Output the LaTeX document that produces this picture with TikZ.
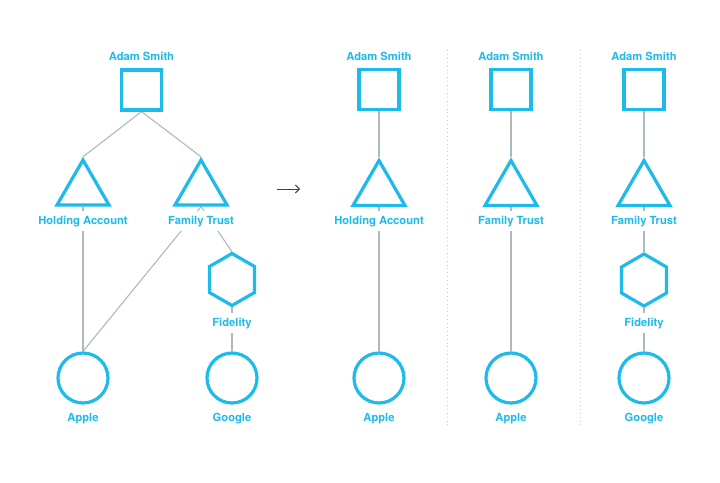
\documentclass[tikz,border=0pt]{standalone}
\usepackage{fontspec}
\setmainfont{TeX Gyre Heros}
\usetikzlibrary{shapes.geometric,backgrounds,arrows.meta}
\definecolor{cy}{RGB}{29,186,234}
\definecolor{edgegray}{RGB}{172,185,189}
\definecolor{arrowgray}{RGB}{55,70,72}
\definecolor{sepgray}{RGB}{200,205,208}
\tikzset{
  shp/.style={draw=cy, line width=3.2pt, fill=white, inner sep=0pt},
  sqbox/.style={shp, rectangle, minimum size=40pt},
  tri/.style={shp, regular polygon, regular polygon sides=3, minimum size=60pt},
  hexa/.style={shp, regular polygon, regular polygon sides=6, shape border rotate=30, minimum size=52pt},
  circ/.style={shp, circle, minimum size=50pt},
  lbl/.style={anchor=base, text=cy, font=\bfseries\fontsize{11.2}{13}\selectfont, fill=white, inner xsep=2pt, inner ysep=4pt, text height=9pt, text depth=3pt},
  edge/.style={draw=edgegray, line width=1.1pt},
  sep/.style={draw=sepgray, line width=0.9pt, dash pattern=on 0.9pt off 3pt}
}
\begin{document}
\begin{tikzpicture}[x=1pt,y=-1pt]
\useasboundingbox (0,0) rectangle (720,482);
% ---------- left tree ----------
\node[sqbox] (s0) at (141.5,90) {};
\node[lbl] (ls0) at (141.5,60.5) {Adam Smith};
\node[tri] (t1) at (83,190) {};
\node[tri] (t2) at (201,190) {};
\node[lbl] (lt1) at (83,224) {Holding Account};
\node[lbl] (lt2) at (201,224) {Family Trust};
\node[hexa] (h0) at (232,279.5) {};
\node[lbl] (lh0) at (232,326) {Fidelity};
\node[circ] (c1) at (83,378) {};
\node[circ] (c2) at (232,378) {};
\node[lbl] (lc1) at (83,421) {Apple};
\node[lbl] (lc2) at (232,421) {Google};
\begin{scope}[on background layer]
  \draw[edge] (s0.south) -- (t1.corner 1);
  \draw[edge] (s0.south) -- (t2.corner 1);
  \draw[edge] (t1.south) -- (c1.north);
  \draw[edge] (t2.south) -- (c1.north);
  \draw[edge] (t2.south) -- (h0.north);
  \draw[edge] (h0.south) -- (c2.north);
\end{scope}
% ---------- arrow ----------
\coordinate (a0) at (277,189);
\coordinate (a1) at (300,189);
\draw[draw=arrowgray, line width=1pt, -{Straight Barb[length=4pt,width=8pt]}] (a0) -- (a1);
% ---------- separators ----------
\coordinate (sp1a) at (447.5,50);
\coordinate (sp1b) at (447.5,425);
\coordinate (sp2a) at (580,50);
\coordinate (sp2b) at (580,425);
\draw[sep] (sp1a) -- (sp1b);
\draw[sep] (sp2a) -- (sp2b);
% ---------- panel 1 ----------
\node[sqbox] (ps1) at (379,89.5) {};
\node[lbl] (lps1) at (379,60.5) {Adam Smith};
\node[tri] (pt1) at (379,190.5) {};
\node[lbl] (lpt1) at (379,224) {Holding Account};
\node[circ] (pc1) at (379,378) {};
\node[lbl] (lpc1) at (379,421) {Apple};
% ---------- panel 2 ----------
\node[sqbox] (ps2) at (511,89.5) {};
\node[lbl] (lps2) at (511,60.5) {Adam Smith};
\node[tri] (pt2) at (511,190.5) {};
\node[lbl] (lpt2) at (511,224) {Family Trust};
\node[circ] (pc2) at (511,378) {};
\node[lbl] (lpc2) at (511,421) {Apple};
% ---------- panel 3 ----------
\node[sqbox] (ps3) at (644,89.5) {};
\node[lbl] (lps3) at (644,60.5) {Adam Smith};
\node[tri] (pt3) at (644,190.5) {};
\node[lbl] (lpt3) at (644,224) {Family Trust};
\node[hexa] (ph3) at (644,280) {};
\node[lbl] (lph3) at (644,326) {Fidelity};
\node[circ] (pc3) at (644,378) {};
\node[lbl] (lpc3) at (644,421) {Google};
\begin{scope}[on background layer]
  \draw[edge] (ps1.south) -- (pt1.corner 1);
  \draw[edge] (pt1.south) -- (pc1.north);
  \draw[edge] (ps2.south) -- (pt2.corner 1);
  \draw[edge] (pt2.south) -- (pc2.north);
  \draw[edge] (ps3.south) -- (pt3.corner 1);
  \draw[edge] (pt3.south) -- (ph3.north);
  \draw[edge] (ph3.south) -- (pc3.north);
\end{scope}
\end{tikzpicture}
\end{document}
